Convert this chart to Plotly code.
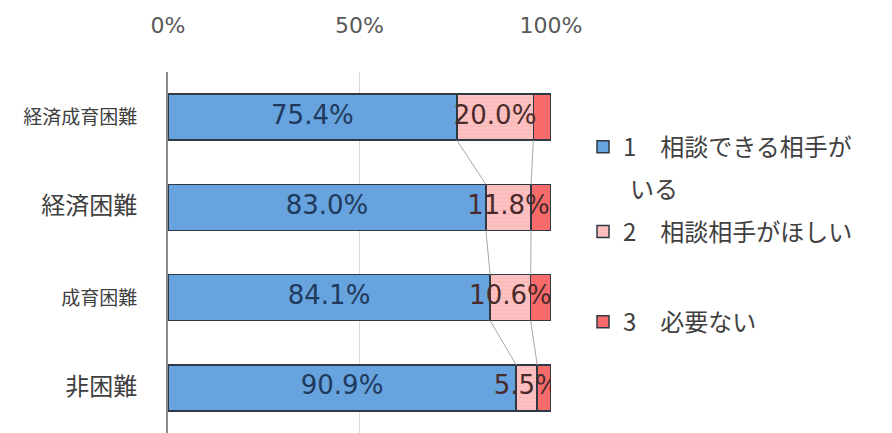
import plotly.graph_objects as go

categories = ["経済成育困難", "経済困難", "成育困難", "非困難"]
cat_sizes = [19, 24, 19, 24]
series_names = ["1　相談できる相手が", "2　相談相手がほしい", "3　必要ない"]
wrap_text = "いる"
has_partner = [75.4, 83.0, 84.1, 90.9]
want_partner = [20.0, 11.8, 10.6, 5.5]
not_needed = [4.6, 5.2, 5.3, 3.6]
x_ticks = [0, 50, 100]

blue = "#67A3DE"
pink = "#FFC2C2"
red = "#F96B6B"
edge = "#2E3944"
bar_w = 0.51

ypos = list(range(len(categories)))
fig = go.Figure()

fig.add_trace(go.Bar(y=ypos, x=has_partner, orientation="h", name=series_names[0], width=bar_w,
                     marker=dict(color=blue, line=dict(color=edge, width=1.5)), legend="legend"))
fig.add_trace(go.Bar(y=ypos, x=want_partner, orientation="h", name=series_names[1], width=bar_w,
                     marker=dict(color=pink, line=dict(color=edge, width=1.5),
                                 pattern=dict(shape="-", fgcolor="#F2A6A6", bgcolor=pink, size=4, solidity=0.25)),
                     legend="legend2"))
fig.add_trace(go.Bar(y=ypos, x=not_needed, orientation="h", name=series_names[2], width=bar_w,
                     marker=dict(color=red, line=dict(color=edge, width=1.5)), legend="legend3"))

# series lines between bars (Excel style)
cum1 = has_partner
cum2 = [a + b for a, b in zip(has_partner, want_partner)]
for cum in (cum1, cum2):
    for i in range(len(categories) - 1):
        fig.add_trace(go.Scatter(x=[cum[i], cum[i + 1]], y=[i + bar_w / 2, i + 1 - bar_w / 2],
                                 mode="lines", line=dict(color="#A6A6A6", width=1),
                                 showlegend=False, hoverinfo="skip"))

# data labels
fig.add_trace(go.Scatter(x=[v / 2 for v in has_partner], y=ypos, mode="text",
                         text=[f"{v:.1f}%" for v in has_partner],
                         textfont=dict(family="DejaVu Sans", size=26, color="#1F3A5C"),
                         showlegend=False, hoverinfo="skip"))
fig.add_trace(go.Scatter(x=[a + b / 2 for a, b in zip(has_partner, want_partner)], y=ypos, mode="text",
                         text=[f"{v:.1f}%" for v in want_partner],
                         textfont=dict(family="DejaVu Sans", size=26, color="#4A2B2B"),
                         showlegend=False, hoverinfo="skip"))

leg_font = dict(family="Noto Sans CJK JP", size=24, color="#404040")
leg_common = dict(x=1.0836, xanchor="left", yanchor="middle", font=leg_font, bgcolor="rgba(0,0,0,0)")

fig.add_annotation(xref="paper", yref="paper", x=1.201, y=0.681, text=wrap_text, showarrow=False,
                   xanchor="left", yanchor="middle", font=leg_font)

# page body has an 8px margin, so the figure is 8px smaller than the window
fig.update_layout(
    barmode="stack",
    width=884, height=425,
    margin=dict(l=160, r=341, t=64, b=0),
    paper_bgcolor="white", plot_bgcolor="white",
    legend=dict(y=0.792, **leg_common),
    legend2=dict(y=0.557, **leg_common),
    legend3=dict(y=0.307, **leg_common),
    xaxis=dict(side="top", range=[0, 100], tickvals=x_ticks, ticktext=[f"{t}%" for t in x_ticks],
               showgrid=True, gridcolor="#D9D9D9", gridwidth=1, zeroline=False, showline=False,
               automargin=False,
               tickfont=dict(family="DejaVu Sans", size=22, color="#595959"), ticklabelstandoff=34),
    yaxis=dict(range=[len(categories) - 0.5, -0.5], tickvals=ypos,
               ticktext=[f"<span style='font-size:{s}px'>{c}</span>" for c, s in zip(categories, cat_sizes)],
               showgrid=False, zeroline=False, showline=True, linecolor="#8C8C8C", linewidth=1.5,
               automargin=False,
               tickfont=dict(family="Noto Sans CJK JP", size=20, color="#404040"), ticklabelstandoff=25),
)

fig.write_html("out.html")
